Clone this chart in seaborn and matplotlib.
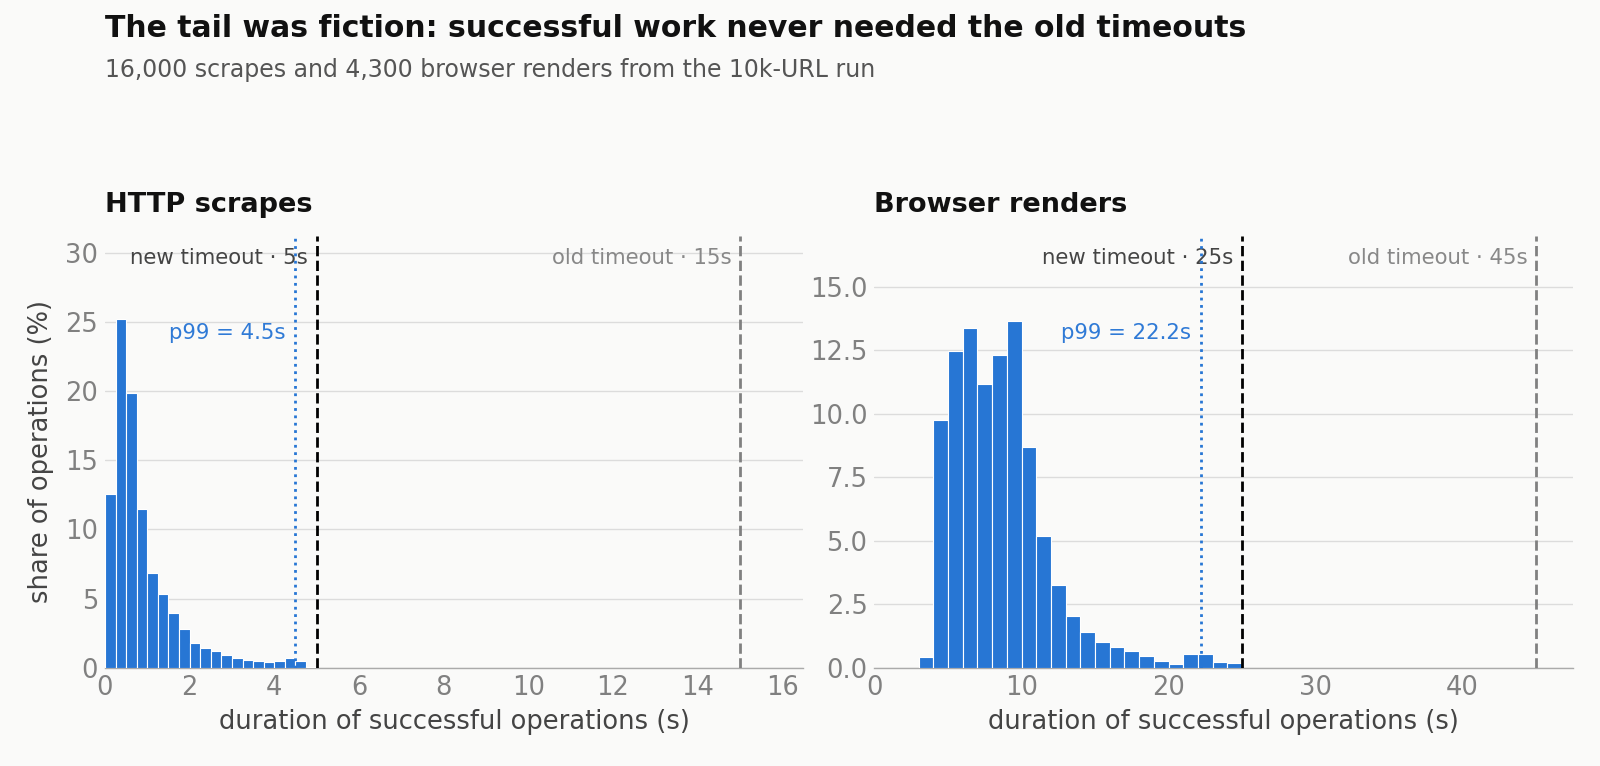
import numpy as np
import pandas as pd
import matplotlib
matplotlib.use("Agg")
import matplotlib.pyplot as plt
from matplotlib.ticker import MultipleLocator, FormatStrFormatter
import seaborn as sns

# ---- data ----
http_bin_width = 0.25
http_pct = [12.53, 25.18, 19.83, 11.49, 6.87, 5.35, 3.98, 2.84, 1.81, 1.45,
            1.20, 0.92, 0.72, 0.60, 0.53, 0.41, 0.53, 0.72, 0.48, 0.07]
http_start = 0.0
http_p99 = 4.5
http_new_timeout = 5
http_old_timeout = 15

browser_bin_width = 1.0
browser_pct = [0.44, 9.75, 12.49, 13.38, 11.19, 12.32, 13.67, 8.69, 5.18, 3.25,
               2.05, 1.42, 1.01, 0.81, 0.68, 0.46, 0.29, 0.14, 0.53, 0.53, 0.23, 0.20]
browser_start = 3.0
browser_p99 = 22.2
browser_new_timeout = 25
browser_old_timeout = 45

panel_titles = ["HTTP scrapes", "Browser renders"]
title = "The tail was fiction: successful work never needed the old timeouts"
subtitle = "16,000 scrapes and 4,300 browser renders from the 10k-URL run"
xlabel = "duration of successful operations (s)"
ylabel = "share of operations (%)"

# ---- style ----
BG = "#fafaf9"
BLUE = "#2776d4"
sns.set_theme(style="white")
plt.rcParams["font.family"] = ["DejaVu Sans"]

fig, axes = plt.subplots(1, 2, figsize=(16, 7.66), dpi=100)
fig.patch.set_facecolor(BG)
fig.subplots_adjust(left=0.0656, right=0.983, bottom=0.128, top=0.692, wspace=0.102)

panels = [
    (http_pct, http_start, http_bin_width, http_p99, http_new_timeout, http_old_timeout, 16.5, 31.2, 5, "%d"),
    (browser_pct, browser_start, browser_bin_width, browser_p99, browser_new_timeout, browser_old_timeout, 47.5, 17.0, 2.5, "%.1f"),
]

for ax, ptitle, (pct, start, bw, p99, new_t, old_t, xmax, ymax, ystep, yfmt) in zip(axes, panel_titles, panels):
    ax.set_facecolor(BG)
    n = len(pct)
    edges = [float(start + bw * i) for i in range(n + 1)]
    centers = [e + bw / 2 for e in edges[:-1]]
    df = pd.DataFrame({"duration": centers, "pct": pct})
    sns.histplot(data=df, x="duration", weights="pct", bins=edges, ax=ax,
                 color=BLUE, alpha=1, edgecolor="white", linewidth=0.8, zorder=3)
    ax.set_xlim(0, xmax)
    ax.set_ylim(0, ymax)
    ax.yaxis.set_major_locator(MultipleLocator(ystep))
    ax.yaxis.set_major_formatter(FormatStrFormatter(yfmt))
    ax.grid(axis="y", color="#dcdcdc", linewidth=1, zorder=0)
    ax.set_axisbelow(True)
    for s in ["top", "right", "left"]:
        ax.spines[s].set_visible(False)
    ax.spines["bottom"].set_color("#aaaaaa")
    ax.spines["bottom"].set_linewidth(1)
    ax.tick_params(axis="both", length=0, labelsize=18.5, labelcolor="#808080", pad=5)
    ax.set_xlabel(xlabel, fontsize=18.5, color="#444444", labelpad=6)
    ax.set_ylabel("")
    ax.set_title(ptitle, loc="left", fontsize=19.5, fontweight="bold", color="#111111", pad=17)

    ax.axvline(p99, color=BLUE, linestyle=":", linewidth=2, zorder=4)
    ax.axvline(new_t, color="black", linestyle="--", linewidth=2, zorder=4)
    ax.axvline(old_t, color="#808080", linestyle="--", linewidth=2, zorder=4)
    tr = ax.get_xaxis_transform()
    ax.annotate(f"new timeout · {new_t}s", xy=(new_t, 0.948), xycoords=tr,
                xytext=(-6, 0), textcoords="offset points", ha="right", va="center",
                fontsize=15.3, color="#444444")
    ax.annotate(f"old timeout · {old_t}s", xy=(old_t, 0.948), xycoords=tr,
                xytext=(-6, 0), textcoords="offset points", ha="right", va="center",
                fontsize=15.3, color="#888888")
    ax.annotate(f"p99 = {p99}s", xy=(p99, 0.775), xycoords=tr,
                xytext=(-7, 0), textcoords="offset points", ha="right", va="center",
                fontsize=15.3, color="#2f7ad6")

axes[0].set_ylabel(ylabel, fontsize=18.5, color="#444444", labelpad=8)

fig.text(0.0656, 0.963, title, fontsize=21.5, fontweight="bold", color="#111111", ha="left", va="center")
fig.text(0.0656, 0.909, subtitle, fontsize=17, color="#555555", ha="left", va="center")

fig.savefig("out.png", dpi=100, facecolor=BG)
